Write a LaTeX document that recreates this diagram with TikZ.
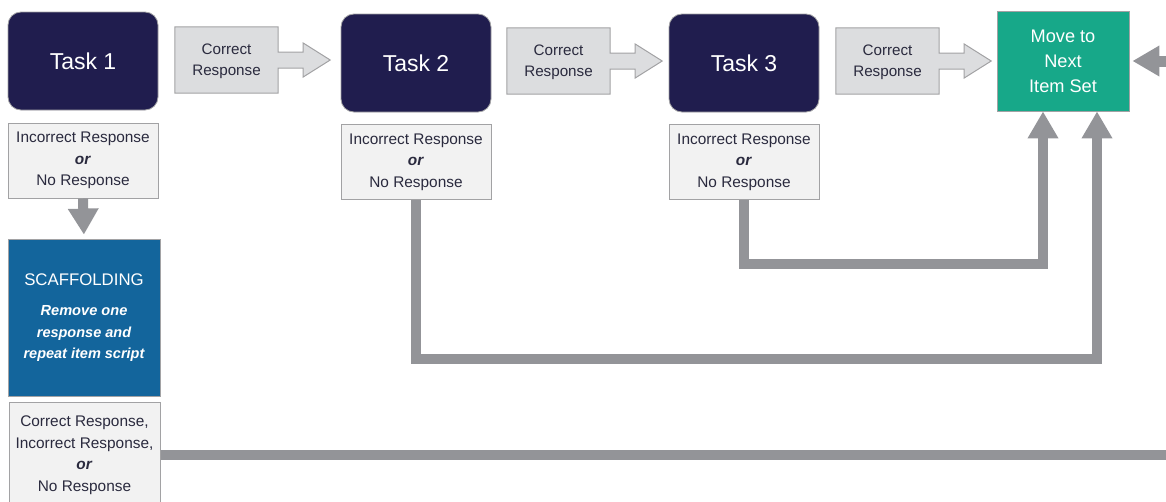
\documentclass[tikz,border=0pt]{standalone}
\usepackage{fontspec}
\setmainfont{Liberation Sans}
\usetikzlibrary{arrows.meta,calc}
\definecolor{navy}{HTML}{201D4E}
\definecolor{teal}{HTML}{17A889}
\definecolor{scblue}{HTML}{13659C}
\definecolor{crfill}{HTML}{DCDDDF}
\definecolor{lightbox}{HTML}{F2F2F2}
\definecolor{bord}{HTML}{A2A2A4}
\definecolor{conn}{HTML}{939498}
\definecolor{txt}{HTML}{2A2A3E}
\begin{document}
\begin{tikzpicture}[x=1pt,y=-1pt,
  taskbox/.style={fill=navy,draw=bord,line width=0.8pt,rounded corners=13pt,minimum width=150pt,minimum height=98pt,inner sep=0pt,text=white,font=\fontsize{23}{27}\selectfont},
  crbox/.style={minimum width=103pt,minimum height=66pt,inner sep=0pt,align=center,text=txt,font=\fontsize{15.2}{21}\selectfont},
  crshape/.style={fill=crfill,draw=bord,line width=1pt},
  lbox/.style={fill=lightbox,draw=bord,line width=1pt,minimum width=150pt,minimum height=75pt,inner sep=0pt,align=center,text=txt,font=\fontsize{15.4}{21.5}\selectfont},
  connector/.style={draw=conn,line width=9.5pt,-{Triangle[length=27pt,width=29pt]}},
  plainline/.style={draw=conn,line width=9.5pt}
]
\useasboundingbox (0,0) rectangle (1166,501);

% task boxes
\node[taskbox] (t1) at (83,61) {Task 1};
\node[taskbox] (t2) at (416,63) {Task 2};
\node[taskbox] (t3) at (744,63) {Task 3};
\node[fill=teal,draw=bord,line width=0.8pt,minimum width=132pt,minimum height=100pt,inner sep=0pt,align=center,text=white,font=\fontsize{18.2}{25}\selectfont] (green) at (1063,61) {Move to\\Next\\Item Set};

% correct response arrow-boxes
\foreach \n/\x/\y in {cr1/226.5/60, cr2/558.5/61, cr3/887.5/61}{
  \node[crbox] (\n) at (\x,\y) {};
  \path[crshape] (\n.north west) -- (\n.north east) -- ($(\n.east)+(0,-8)$) -- ($(\n.east)+(25,-8)$) -- ($(\n.east)+(25,-17)$) -- ($(\n.east)+(52,0)$) -- ($(\n.east)+(25,17)$) -- ($(\n.east)+(25,8)$) -- ($(\n.east)+(0,8)$) -- (\n.south east) -- (\n.south west) -- cycle;
  \node[crbox] at ($(\n)+(0,1.5)$) {Correct\\Response};
}

% incorrect boxes
\node[lbox] (inc1) at (83,160.5) {Incorrect Response\\\textbf{\textit{or}}\\No Response};
\node[lbox] (inc2) at (416,162) {Incorrect Response\\\textbf{\textit{or}}\\No Response};
\node[lbox] (inc3) at (744,162) {Incorrect Response\\\textbf{\textit{or}}\\No Response};

% scaffolding
\node[fill=scblue,draw=bord,line width=0.8pt,minimum width=152pt,minimum height=157pt,inner sep=0pt,align=center,text=white,font=\fontsize{14.5}{21.5}\selectfont] (scaff) at (84,317.5)
  {\fontsize{16.8}{20}\selectfont SCAFFOLDING\\[9pt]
   \fontsize{14.6}{21.5}\selectfont\bfseries\itshape Remove one\\\bfseries\itshape response and\\\bfseries\itshape repeat item script};

\node[lbox,minimum width=151pt,minimum height=106pt] (bot) at (84.5,455) {Correct Response,\\Incorrect Response,\\\textbf{\textit{or}}\\No Response};

% connectors
\draw[connector,line width=10pt,-{Triangle[length=26pt,width=29pt]},shorten >=4pt] (inc1.south) -- (scaff.north);
\draw[connector] (inc3.south) -- ++(0,64) -| ([xshift=-20pt]green.south);
\draw[connector] (inc2.south) -- ++(0,159) -| ([xshift=34pt]green.south);
\coordinate (re) at (1172,61);
\draw[connector,line width=11pt,shorten >=3pt] (re) -- (green.east);
\coordinate (rb) at (1172,455);
\draw[plainline] (bot.east) -- (rb);
\end{tikzpicture}
\end{document}
